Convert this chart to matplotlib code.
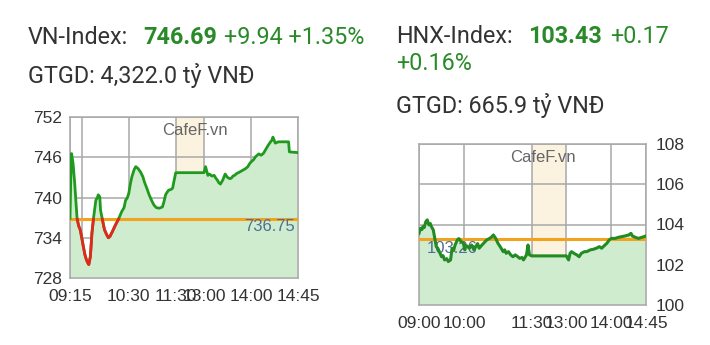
import numpy as np
import matplotlib
matplotlib.use("Agg")
import matplotlib.pyplot as plt

# ---- VN-Index intraday (x = trading minutes from 09:15, lunch break compressed) ----
vn_t = [0, 1, 2, 4, 6, 9, 11, 13, 15, 17, 19, 21, 23, 24, 26, 28, 30, 33, 35, 36,
        38, 39, 41, 44, 47, 49, 51, 54, 56, 58, 62, 66, 69, 71, 73, 75, 77, 79, 82,
        84, 87, 90, 93, 95, 98, 101, 104, 107, 110, 114, 118, 120, 122, 124, 126,
        129, 131, 133, 135, 171, 173, 176, 178, 181, 184, 186, 188, 190, 192, 195,
        198, 201, 204, 206, 208, 210, 213, 215, 218, 221, 224, 227, 229, 231, 234,
        237, 239, 241, 244, 247, 249, 251, 253, 256, 258, 259, 261, 262, 266, 279,
        280, 291]
vn_v = [736.9, 743.0, 746.55, 745.0, 742.1, 736.9, 735.8, 735.2, 734.0, 732.7, 731.5,
        730.7, 730.2, 730.0, 731.2, 734.7, 736.9, 739.6, 740.0, 740.4, 740.1, 738.1,
        736.9, 735.2, 734.4, 734.0, 734.2, 734.9, 735.4, 735.9, 736.8, 737.9, 738.5,
        739.6, 739.9, 740.6, 742.0, 743.1, 744.2, 744.6, 744.3, 743.8, 743.1, 742.3,
        741.4, 740.4, 739.6, 738.9, 738.5, 738.4, 738.6, 739.4, 740.4, 740.8, 741.1,
        741.2, 741.4, 742.6, 743.7, 743.7, 744.6, 743.3, 743.5, 743.2, 743.3, 742.9,
        742.6, 742.2, 742.0, 742.6, 743.5, 743.0, 742.8, 742.9, 743.2, 743.3, 743.6,
        743.7, 743.9, 744.1, 744.3, 744.6, 745.0, 745.3, 745.6, 746.1, 746.3, 746.5,
        746.3, 746.6, 747.0, 747.4, 747.8, 748.3, 748.6, 749.0, 748.4, 748.1, 748.3,
        748.3, 746.8, 746.69]
vn_ref = 736.75
vn_xticks = [0, 15, 75, 135, 171, 231, 291]
vn_xlabels = ["09:15", "", "10:30", "11:30", "13:00", "14:00", "14:45"]
vn_yticks = [728, 734, 740, 746, 752]
vn_lunch = (135, 171)

# ---- HNX-Index intraday (x = trading minutes from 09:00, lunch break compressed) ----
hnx_t = [0, 2, 4, 5, 7, 9, 11, 13, 15, 16, 19, 21, 23, 25, 27, 30, 32, 34, 37, 39,
         42, 44, 46, 48, 51, 53, 56, 59, 61, 62, 64, 67, 70, 73, 76, 78, 80, 83, 86,
         90, 94, 96, 99, 102, 105, 108, 112, 114, 116, 119, 122, 125, 128, 130, 134,
         137, 139, 143, 145, 147, 150, 196, 199, 201, 203, 206, 210, 213, 216, 220,
         223, 228, 232, 236, 240, 243, 246, 250, 253, 256, 261, 265, 270, 274, 279,
         282, 284, 288, 292, 302]
hnx_v = [103.56, 103.81, 103.75, 103.89, 103.85, 104.14, 104.23, 103.98, 104.05, 103.93,
         103.73, 103.31, 102.90, 102.82, 102.65, 102.40, 102.45, 102.24, 102.30, 102.16,
         102.24, 102.82, 102.70, 102.98, 103.23, 103.30, 103.15, 103.07, 102.74, 102.95,
         102.93, 102.82, 102.98, 102.74, 102.93, 103.05, 102.82, 102.95, 103.07, 103.23,
         103.31, 103.36, 103.48, 103.31, 103.07, 102.90, 102.65, 102.74, 102.57, 102.65,
         102.49, 102.40, 102.49, 102.44, 102.32, 102.36, 102.24, 102.49, 102.98, 102.49,
         102.44, 102.44, 102.24, 102.57, 102.65, 102.57, 102.49, 102.40, 102.57, 102.65,
         102.65, 102.74, 102.77, 102.82, 102.90, 102.82, 102.93, 103.07, 103.23, 103.31,
         103.31, 103.36, 103.40, 103.43, 103.48, 103.56, 103.43, 103.36, 103.31, 103.43]
hnx_ref = 103.26
hnx_xticks = [0, 60, 150, 196, 256, 302]
hnx_xlabels = ["09:00", "10:00", "11:30", "13:00", "14:00", "14:45"]
hnx_yticks = [100, 102, 104, 106, 108]
hnx_lunch = (150, 196)

LINE_GREEN = "#1f9a1f"
FILL_GREEN = "#cfeccf"
RED = "#e5261c"
ORANGE = "#f2a31d"
LUNCH = "#fbf2df"
GRID = "#a8a8a8"
REF_TXT = "#4f6e96"
TXT = "#333333"
HEAD_GREEN = "#2a8a2a"

TICK_FONT = "Liberation Sans"
HEAD_FONT = "Roboto"
TICK_SIZE = 12.5


def split_below(t, v, ref):
    """Insert crossing points so the series can be coloured above/below ref."""
    t = np.asarray(t, float)
    v = np.asarray(v, float)
    xs, ys = [t[0]], [v[0]]
    for i in range(1, len(t)):
        a, b = v[i - 1] - ref, v[i] - ref
        if a * b < 0:
            f = a / (a - b)
            xs.append(t[i - 1] + f * (t[i] - t[i - 1]))
            ys.append(ref)
        xs.append(t[i])
        ys.append(v[i])
    xs, ys = np.array(xs), np.array(ys)
    below = np.where(ys <= ref + 1e-9, ys, np.nan)
    return xs, ys, below


def style_axes(ax, xticks, xlabels, yticks, lunch, yside):
    ax.axvspan(*lunch, color=LUNCH, zorder=0, lw=0)
    ax.set_xticks(xticks)
    ax.set_xticklabels(xlabels)
    ax.set_yticks(yticks)
    ax.grid(True, color=GRID, lw=1.1, zorder=1)
    for s in ax.spines.values():
        s.set_color(GRID)
        s.set_linewidth(1.1)
    ax.tick_params(length=0, labelsize=TICK_SIZE, labelcolor=TXT)
    if yside == "right":
        ax.yaxis.tick_right()
        ax.tick_params(axis="y", pad=7)
    else:
        ax.tick_params(axis="y", pad=6)
    ax.tick_params(axis="x", pad=8)
    for lab in ax.get_xticklabels() + ax.get_yticklabels():
        lab.set_fontfamily(TICK_FONT)


fig = plt.figure(figsize=(7.10, 3.45), dpi=100)
fig.patch.set_facecolor("white")

# ---------------- VN-Index panel ----------------
ax1 = fig.add_axes([70 / 710, 1 - 278 / 345, 228 / 710, 161 / 345])
ax1.set_xlim(vn_xticks[0], vn_xticks[-1])
ax1.set_ylim(vn_yticks[0], vn_yticks[-1])
style_axes(ax1, vn_xticks, vn_xlabels, vn_yticks, vn_lunch, "left")
ax1.fill_between(vn_t, vn_v, vn_yticks[0], color=FILL_GREEN, lw=0, zorder=2)
ax1.axhline(vn_ref, color=ORANGE, lw=2.2, zorder=3)
xs, ys, below = split_below(vn_t, vn_v, vn_ref)
ax1.plot(xs, ys, color=LINE_GREEN, lw=2.0, zorder=4, solid_joinstyle="round")
ax1.plot(xs, below, color=RED, lw=2.0, zorder=5, solid_joinstyle="round")
ax1.text(0.985, vn_ref, f"{vn_ref:.2f}", transform=ax1.get_yaxis_transform(),
         ha="right", va="top", fontsize=12, color=REF_TXT, family=TICK_FONT, zorder=6)
ax1.text(0.55, 0.965, "CafeF.vn", transform=ax1.transAxes, ha="center", va="top",
         fontsize=12, color="#666666", family=TICK_FONT, zorder=6)

# ---------------- HNX-Index panel ----------------
ax2 = fig.add_axes([419 / 710, 1 - 305 / 345, 227 / 710, 161 / 345])
ax2.set_xlim(hnx_xticks[0], hnx_xticks[-1])
ax2.set_ylim(hnx_yticks[0], hnx_yticks[-1])
style_axes(ax2, hnx_xticks, hnx_xlabels, hnx_yticks, hnx_lunch, "right")
ax2.fill_between(hnx_t, hnx_v, hnx_yticks[0], color=FILL_GREEN, lw=0, zorder=2)
ax2.axhline(hnx_ref, color=ORANGE, lw=2.2, zorder=3)
ax2.text(0.035, hnx_ref - 0.08, f"{hnx_ref:.2f}", transform=ax2.get_yaxis_transform(),
         ha="left", va="top", fontsize=12, color=REF_TXT, family=TICK_FONT, zorder=3.5)
ax2.plot(hnx_t, hnx_v, color="#228b22", lw=2.2, zorder=4, solid_joinstyle="round")
ax2.text(0.545, 0.965, "CafeF.vn", transform=ax2.transAxes, ha="center", va="top",
         fontsize=12, color="#666666", family=TICK_FONT, zorder=6)

# ---------------- Headers ----------------
def fy(py):
    return 1 - py / 345


HS = 16.8
fig.text(28 / 710, fy(44.3), "VN-Index:", fontsize=HS, color=TXT, family=HEAD_FONT, va="baseline")
fig.text(143 / 710, fy(44.3), "746.69", fontsize=HS, color=HEAD_GREEN, family=HEAD_FONT,
         weight="bold", va="baseline")
fig.text(224 / 710, fy(44.3), "+9.94 +1.35%", fontsize=HS, color=HEAD_GREEN,
         family=HEAD_FONT, va="baseline")
fig.text(28 / 710, fy(83.3), "GTGD: 4,322.0 tỷ VNĐ", fontsize=HS, color=TXT,
         family=HEAD_FONT, va="baseline")

fig.text(396.5 / 710, fy(43.3), "HNX-Index:", fontsize=HS, color=TXT, family=HEAD_FONT, va="baseline")
fig.text(528 / 710, fy(43.3), "103.43", fontsize=HS, color=HEAD_GREEN, family=HEAD_FONT,
         weight="bold", va="baseline")
fig.text(610 / 710, fy(43.3), "+0.17", fontsize=HS, color=HEAD_GREEN, family=HEAD_FONT, va="baseline")
fig.text(396.5 / 710, fy(70), "+0.16%", fontsize=HS, color=HEAD_GREEN, family=HEAD_FONT, va="baseline")
fig.text(396.5 / 710, fy(113.3), "GTGD: 665.9 tỷ VNĐ", fontsize=HS, color=TXT,
         family=HEAD_FONT, va="baseline")

fig.savefig("out.png", dpi=100, facecolor="white")
